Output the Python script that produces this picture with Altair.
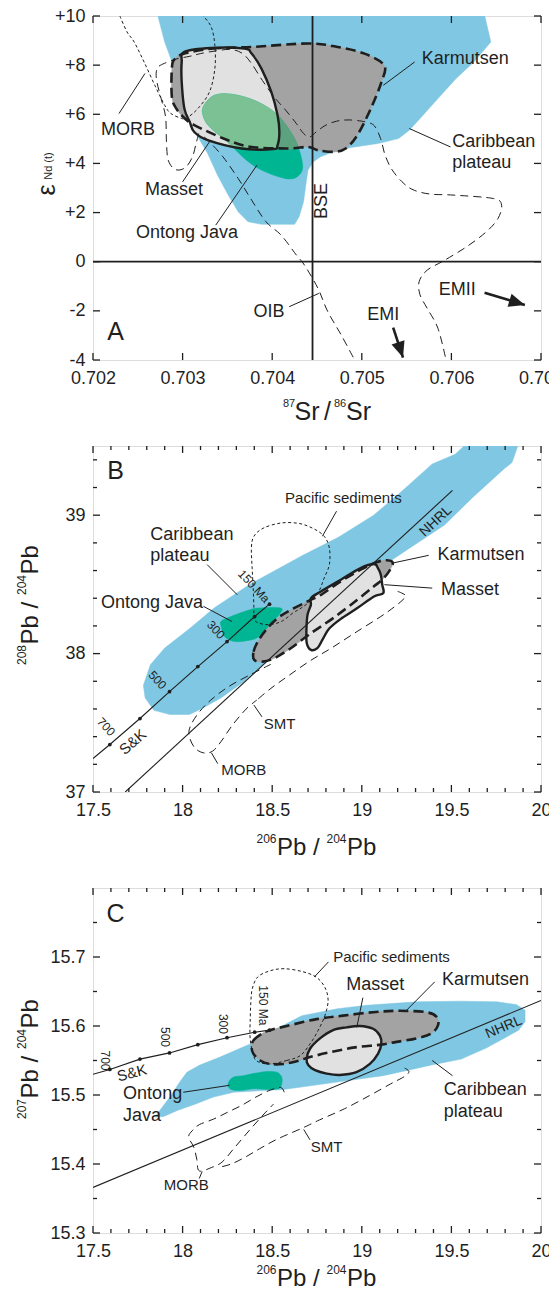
import math
import altair as alt
import pandas as pd

FONT = "Liberation Sans"
INK = "#1f1f1f"
BLUE = "#7fc7e2"
KGREY = "#a3a3a3"
MGREY = "#e1e1e1"
TEAL = "#00b592"
LGREEN = "#7cc194"
DGREEN = "#5ca27e"

# ------------------------------------------------------------------ panel A data (87Sr/86Sr vs eNd)
A_XDOM = [0.702, 0.707]
A_YDOM = [-4, 10]
A_XTICKS = [0.702, 0.703, 0.704, 0.705, 0.706, 0.707]
A_YTICKS = [-4, -2, 0, 2, 4, 6, 8, 10]
A_CARIBBEAN = [(0.70271, 10.2), (0.70636, 10.2), (0.70644, 8.94), (0.70625, 8.13), (0.70605, 7.45),
               (0.70585, 6.64), (0.70565, 5.83), (0.70553, 5.35), (0.70541, 5.01), (0.70518, 4.81),
               (0.70488, 4.65), (0.70466, 4.44), (0.70454, 4.27), (0.70446, 4.07), (0.70440, 3.73),
               (0.70438, 3.25), (0.70435, 2.44), (0.70430, 1.83), (0.70425, 1.52), (0.70388, 1.52),
               (0.70373, 1.63), (0.70362, 2.03), (0.70351, 2.71), (0.70339, 3.52), (0.70328, 4.40),
               (0.70316, 5.15), (0.70300, 6.50), (0.70287, 8.25), (0.70280, 8.94)]
A_KARMUTSEN = [(0.70302, 8.47), (0.70332, 8.67), (0.70377, 8.74), (0.70440, 8.88), (0.70473, 8.74),
               (0.70503, 8.47), (0.70525, 7.99), (0.70522, 7.32), (0.70510, 6.23), (0.70495, 5.15),
               (0.70482, 4.61), (0.70469, 4.47), (0.70451, 4.54), (0.70440, 4.67), (0.70417, 4.61),
               (0.70377, 4.67), (0.70350, 4.95), (0.70313, 5.56), (0.70302, 5.85), (0.70293, 6.23),
               (0.70288, 6.71), (0.70288, 7.86), (0.70291, 8.24)]
A_MASSET = [(0.70302, 8.54), (0.70332, 8.70), (0.70369, 8.67), (0.70377, 8.47), (0.70388, 7.86),
            (0.70399, 6.91), (0.70406, 5.96), (0.70408, 5.28), (0.70406, 4.74), (0.70401, 4.58),
            (0.70366, 4.61), (0.70328, 4.95), (0.70313, 5.28), (0.70308, 5.69), (0.70302, 6.23),
            (0.70299, 7.32), (0.70299, 8.13)]
A_ONTONG = [(0.70323, 6.30), (0.70336, 6.78), (0.70358, 6.80), (0.70384, 6.50), (0.70406, 5.96),
            (0.70425, 5.01), (0.70434, 3.93), (0.70428, 3.46), (0.70414, 3.39), (0.70388, 3.73),
            (0.70369, 4.20), (0.70350, 4.88), (0.70332, 5.42), (0.70324, 5.83)]
A_ONTONG_IN_MASSET = [(0.70323, 6.30), (0.70336, 6.78), (0.70358, 6.80), (0.70384, 6.50), (0.70406, 5.96),
                      (0.70408, 5.28), (0.70406, 4.74), (0.70401, 4.58), (0.70366, 4.61), (0.70356, 4.67),
                      (0.70350, 4.88), (0.70332, 5.42), (0.70324, 5.83)]
A_ONTONG_IN_KARMUTSEN = [(0.70406, 5.96), (0.70415, 5.58), (0.70425, 5.01), (0.70428, 4.63),
                         (0.70411, 4.59), (0.70406, 4.74), (0.70408, 5.28)]
A_MORB = [(0.70230, 10.0), (0.70238, 9.35), (0.70246, 8.94), (0.70257, 8.13), (0.70269, 7.18),
          (0.70280, 6.37), (0.70287, 6.03), (0.70299, 5.83), (0.70304, 5.83), (0.70317, 6.23),
          (0.70330, 6.91), (0.70336, 7.86), (0.70336, 8.81), (0.70332, 9.55), (0.70323, 10.0)]
A_OIB_1 = [(0.70318, 5.22), (0.70315, 4.81), (0.70311, 4.27), (0.70303, 3.83), (0.70292, 3.75),
           (0.70284, 4.13), (0.70282, 4.88), (0.70281, 5.89), (0.70276, 6.64), (0.70271, 7.38),
           (0.70271, 7.79), (0.70275, 7.99), (0.70292, 8.24), (0.70308, 8.36), (0.70320, 8.47),
           (0.70337, 8.58), (0.70354, 8.64), (0.70367, 8.47), (0.70377, 8.06), (0.70389, 7.38),
           (0.70402, 6.71), (0.70415, 6.17), (0.70427, 5.62), (0.70435, 5.22), (0.70442, 5.08),
           (0.70450, 5.31), (0.70460, 5.56), (0.70472, 5.72), (0.70486, 5.77), (0.70504, 5.69),
           (0.70514, 5.53), (0.70521, 5.01), (0.70526, 4.34), (0.70534, 3.73), (0.70547, 3.18),
           (0.70559, 2.90), (0.70577, 2.75), (0.70603, 2.71), (0.70647, 2.57), (0.70656, 2.30),
           (0.70652, 1.76), (0.70639, 1.22), (0.70617, 0.61), (0.70591, 0.03), (0.70573, -0.34),
           (0.70564, -0.81), (0.70565, -1.35), (0.70573, -1.90), (0.70585, -2.71), (0.70594, -4.0)]
A_OIB_2 = [(0.70324, 5.08), (0.70330, 4.88), (0.70345, 4.27), (0.70362, 3.39), (0.70377, 2.51),
           (0.70393, 1.63), (0.70410, 1.08), (0.70427, 0.27), (0.70436, -0.14), (0.70451, -1.08),
           (0.70462, -2.03), (0.70477, -2.98), (0.70492, -4.0)]
A_BSE = [0.70445]
A_ZERO = [0.0]
A_LABELS = [("Karmutsen", 0.70567, 8.27, 18), ("MORB", 0.70209, 5.35, 18), ("Masset", 0.70258, 2.91, 18),
            ("Ontong Java", 0.70248, 1.15, 18), ("Caribbean", 0.70601, 4.88, 18),
            ("plateau", 0.70601, 4.00, 18), ("OIB", 0.70379, -2.03, 18), ("EMI", 0.70506, -2.17, 18),
            ("EMII", 0.70586, -1.15, 18), ("A", 0.70216, -2.85, 25)]
A_ROTATED = [("BSE", 0.70456, 2.47, 270, 18)]
A_LEADERS = [(0.70559, 8.13, 0.70524, 7.18), (0.70229, 6.03, 0.70258, 7.66), (0.70300, 3.25, 0.70330, 4.88),
             (0.70337, 1.49, 0.70383, 3.93), (0.70599, 4.67, 0.70553, 5.42), (0.70419, -1.83, 0.70452, -1.29)]
A_ARROWS = [(0.70535, -2.68, 0.70546, -3.90), (0.70637, -1.26, 0.70682, -1.76)]

# ------------------------------------------------------------------ panel B data (206Pb/204Pb vs 208Pb/204Pb)
B_XDOM = [17.5, 20.0]
B_YDOM = [37.0, 39.5]
PB_XMAJOR = [17.5, 18.0, 18.5, 19.0, 19.5, 20.0]
PB_XMINOR = [17.6, 17.7, 17.8, 17.9, 18.1, 18.2, 18.3, 18.4, 18.6, 18.7, 18.8, 18.9,
             19.1, 19.2, 19.3, 19.4, 19.6, 19.7, 19.8, 19.9]
B_YMAJOR = [37.0, 38.0, 39.0]
B_YMINOR = [37.2, 37.4, 37.6, 37.8, 38.2, 38.4, 38.6, 38.8, 39.2, 39.4]
B_CARIBBEAN = [(17.781, 37.77), (17.791, 37.68), (17.840, 37.59), (17.929, 37.56), (18.038, 37.56),
               (18.103, 37.60), (18.214, 37.68), (18.345, 37.80), (18.447, 37.92), (18.572, 38.04),
               (18.770, 38.23), (18.968, 38.47), (19.126, 38.64), (19.264, 38.76), (19.462, 38.93),
               (19.620, 39.13), (19.798, 39.34), (19.838, 39.38), (19.887, 39.56), (19.620, 39.56),
               (19.521, 39.44), (19.393, 39.37), (19.264, 39.22), (19.185, 39.13), (19.066, 39.00),
               (18.869, 38.84), (18.671, 38.71), (18.572, 38.64), (18.374, 38.50), (18.176, 38.33),
               (18.038, 38.18), (17.900, 38.04), (17.820, 37.92)]
B_KARMUTSEN = [(18.400, 37.954), (18.396, 38.014), (18.420, 38.087), (18.465, 38.171), (18.530, 38.256),
               (18.604, 38.316), (18.697, 38.377), (18.772, 38.425), (18.883, 38.522), (18.993, 38.606),
               (19.086, 38.662), (19.142, 38.674), (19.173, 38.655), (19.152, 38.594), (19.114, 38.534),
               (19.068, 38.486), (18.975, 38.389), (18.845, 38.261), (18.716, 38.147), (18.604, 38.039),
               (18.511, 37.966), (18.447, 37.942)]
B_MASSET = [(18.716, 38.401), (18.772, 38.449), (18.883, 38.534), (18.993, 38.618), (19.068, 38.647),
            (19.090, 38.618), (19.106, 38.570), (19.114, 38.498), (19.120, 38.437), (19.068, 38.413),
            (18.975, 38.329), (18.883, 38.251), (18.817, 38.179), (18.780, 38.099), (18.752, 38.039),
            (18.716, 38.027), (18.693, 38.075), (18.691, 38.171), (18.697, 38.280), (18.716, 38.353)]
B_ONTONG = [(18.214, 38.232), (18.269, 38.268), (18.345, 38.304), (18.420, 38.329), (18.548, 38.329),
            (18.538, 38.280), (18.503, 38.232), (18.465, 38.171), (18.428, 38.123), (18.382, 38.099),
            (18.289, 38.087), (18.234, 38.123), (18.218, 38.184)]
B_PACIFIC = [(18.661, 38.329), (18.614, 38.292), (18.558, 38.237), (18.503, 38.213), (18.447, 38.213),
             (18.400, 38.244), (18.398, 38.329), (18.394, 38.473), (18.388, 38.618), (18.384, 38.763),
             (18.398, 38.848), (18.453, 38.908), (18.552, 38.944), (18.651, 38.940), (18.730, 38.903),
             (18.790, 38.848), (18.819, 38.763), (18.819, 38.643), (18.790, 38.546), (18.760, 38.449),
             (18.710, 38.377)]
B_MORB = [(18.493, 37.923), (18.374, 37.845), (18.256, 37.761), (18.157, 37.664), (18.087, 37.568),
          (18.042, 37.471), (18.038, 37.399), (18.068, 37.319), (18.117, 37.283), (18.167, 37.295),
          (18.216, 37.367), (18.275, 37.478), (18.354, 37.599), (18.414, 37.664)]
B_SMT = [(19.200, 38.450), (19.245, 38.420), (19.230, 38.390), (19.185, 38.341), (19.106, 38.268),
         (18.968, 38.155), (18.829, 38.039), (18.710, 37.947), (18.592, 37.841), (18.493, 37.749),
         (18.414, 37.664)]
B_NHRL = [(17.68, 37.0), (19.506, 39.179)]
SK_X = [17.5, 17.594, 17.762, 17.927, 18.085, 18.248, 18.402, 18.485]
B_SK_Y = [37.242, 37.343, 37.531, 37.725, 37.906, 38.087, 38.268, 38.357]
B_LABELS = [("Pacific sediments", 18.572, 39.126, 15), ("Caribbean", 17.820, 38.86, 18),
            ("plateau", 17.820, 38.708, 18), ("Ontong Java", 17.544, 38.365, 18),
            ("Karmutsen", 19.422, 38.715, 18), ("Masset", 19.442, 38.461, 18),
            ("SMT", 18.453, 37.488, 15), ("MORB", 18.216, 37.157, 15), ("B", 17.579, 39.32, 25)]
B_ROTATED = [("NHRL", 19.413, 38.957, 317, 14), ("S&K", 17.722, 37.362, 319, 15),
             ("700", 17.573, 37.471, 47, 12), ("500", 17.860, 37.809, 47, 12),
             ("300", 18.186, 38.171, 47, 12), ("150 Ma", 18.398, 38.486, 47, 12)]
B_LEADERS = [(18.780, 38.848, 18.859, 39.029), (18.137, 38.643, 18.305, 38.425),
             (18.117, 38.341, 18.275, 38.232), (19.373, 38.710, 19.175, 38.655),
             (19.393, 38.473, 19.126, 38.498), (18.443, 37.543, 18.398, 37.628),
             (18.196, 37.205, 18.161, 37.283)]

# ------------------------------------------------------------------ panel C data (206Pb/204Pb vs 207Pb/204Pb)
C_XDOM = [17.5, 20.0]
C_YDOM = [15.3, 15.8]
C_YMAJOR = [15.3, 15.4, 15.5, 15.6, 15.7]
C_YMINOR = [15.35, 15.45, 15.55, 15.65, 15.75]
C_CARIBBEAN = [(17.846, 15.468), (17.885, 15.482), (17.935, 15.499), (17.984, 15.519), (18.024, 15.533),
               (18.093, 15.543), (18.209, 15.555), (18.377, 15.574), (18.488, 15.591), (18.666, 15.615),
               (18.864, 15.625), (19.026, 15.630), (19.304, 15.635), (19.555, 15.636), (19.753, 15.635),
               (19.862, 15.631), (19.911, 15.623), (19.911, 15.606), (19.875, 15.594), (19.792, 15.582),
               (19.694, 15.568), (19.555, 15.552), (19.397, 15.544), (19.259, 15.536), (19.119, 15.528),
               (18.842, 15.518), (18.563, 15.508), (18.285, 15.504), (18.172, 15.497), (18.073, 15.487),
               (17.974, 15.478), (17.895, 15.469)]
C_KARMUTSEN = [(18.385, 15.569), (18.395, 15.579), (18.443, 15.589), (18.488, 15.594), (18.581, 15.600),
               (18.747, 15.610), (18.895, 15.615), (19.063, 15.620), (19.211, 15.622), (19.360, 15.620),
               (19.419, 15.613), (19.425, 15.601), (19.387, 15.589), (19.304, 15.582), (19.194, 15.577),
               (19.109, 15.573), (18.962, 15.569), (18.824, 15.562), (18.711, 15.555), (18.636, 15.549),
               (18.563, 15.545), (18.488, 15.545), (18.433, 15.550), (18.395, 15.560)]
C_MASSET = [(18.692, 15.552), (18.711, 15.567), (18.767, 15.582), (18.840, 15.594), (18.915, 15.598),
            (18.988, 15.600), (19.063, 15.596), (19.101, 15.586), (19.109, 15.574), (19.091, 15.560),
            (19.045, 15.545), (18.970, 15.533), (18.877, 15.529), (18.804, 15.531), (18.739, 15.536),
            (18.702, 15.543)]
C_ONTONG = [(18.257, 15.519), (18.285, 15.526), (18.340, 15.528), (18.415, 15.532), (18.470, 15.534),
            (18.526, 15.533), (18.553, 15.526), (18.553, 15.516), (18.536, 15.509), (18.470, 15.508),
            (18.395, 15.509), (18.340, 15.507), (18.285, 15.507), (18.257, 15.511)]
C_PACIFIC = [(18.656, 15.557), (18.581, 15.550), (18.488, 15.545), (18.423, 15.548), (18.395, 15.557),
             (18.377, 15.582), (18.377, 15.606), (18.381, 15.635), (18.389, 15.654), (18.419, 15.671),
             (18.488, 15.680), (18.567, 15.683), (18.666, 15.679), (18.745, 15.671), (18.794, 15.656),
             (18.812, 15.637), (18.794, 15.615), (18.757, 15.594), (18.711, 15.574)]
C_MORB = [(18.567, 15.504), (18.547, 15.511), (18.488, 15.507), (18.409, 15.497), (18.330, 15.485),
          (18.251, 15.475), (18.172, 15.465), (18.093, 15.457), (18.053, 15.448), (18.034, 15.439),
          (18.063, 15.424), (18.079, 15.407), (18.093, 15.390), (18.162, 15.395), (18.221, 15.403),
          (18.291, 15.424), (18.370, 15.448), (18.449, 15.471), (18.508, 15.487)]
C_SMT = [(19.239, 15.539), (19.263, 15.534), (19.239, 15.527), (19.160, 15.516), (19.042, 15.499),
         (18.903, 15.480), (18.765, 15.464), (18.676, 15.453), (18.528, 15.436), (18.429, 15.422),
         (18.350, 15.410), (18.271, 15.400), (18.202, 15.395)]
C_NHRL = [(17.5, 15.366), (20.0, 15.637)]
C_SK_Y = [15.530, 15.537, 15.552, 15.561, 15.573, 15.583, 15.591, 15.594]
C_LABELS = [("Pacific sediments", 18.840, 15.700, 15), ("Masset", 18.913, 15.660, 18),
            ("Karmutsen", 19.447, 15.667, 18), ("Caribbean", 19.457, 15.507, 18),
            ("plateau", 19.457, 15.476, 18), ("Ontong", 17.668, 15.501, 18), ("Java", 17.668, 15.470, 18),
            ("SMT", 18.715, 15.425, 15), ("MORB", 17.895, 15.369, 15), ("C", 17.575, 15.763, 25)]
C_ROTATED = [("NHRL", 19.792, 15.598, 337, 14), ("S&K", 17.717, 15.532, 346, 15),
             ("700", 17.569, 15.550, 90, 12), ("500", 17.901, 15.584, 90, 12),
             ("300", 18.225, 15.603, 90, 12), ("150 Ma", 18.449, 15.630, 90, 12)]
C_LEADERS = [(18.814, 15.693, 18.735, 15.671), (19.006, 15.641, 18.972, 15.598),
             (19.407, 15.664, 19.239, 15.620), (19.506, 15.528, 19.393, 15.550),
             (18.004, 15.504, 18.261, 15.514), (18.711, 15.435, 18.676, 15.450),
             (18.093, 15.379, 18.109, 15.389)]

# axis titles: (text, px, py, font size, angle) relative to each plot area
A_TITLE_PIECES = [("87", 190, 391, 11, 0), ("Sr", 201.5, 404, 25, 0), ("/", 231, 404, 25, 0),
                  ("86", 241, 391, 11, 0), ("Sr", 253, 404, 25, 0)]
B_TITLE_PIECES = [("206", 163.5, 397, 12, 0), ("Pb", 184, 409, 24, 0), ("/", 220, 409, 24, 0),
                  ("204", 233.5, 397, 12, 0), ("Pb", 254, 409, 24, 0),
                  ("208", -67, 219, 12, 270), ("Pb", -55, 198.5, 24, 270), ("/", -55, 162.4, 24, 270),
                  ("204", -67, 149, 12, 270), ("Pb", -55, 128.5, 24, 270)]
C_TITLE_PIECES = [("206", 163.5, 386, 12, 0), ("Pb", 184, 398, 24, 0), ("/", 220, 398, 24, 0),
                  ("204", 233.5, 386, 12, 0), ("Pb", 254, 398, 24, 0),
                  ("207", -67, 231, 12, 270), ("Pb", -55, 210.5, 24, 270), ("/", -55, 174.4, 24, 270),
                  ("204", -67, 161, 12, 270), ("Pb", -55, 140.5, 24, 270)]

W = 448
HA, HB, HC = 344, 346, 345
ARROW_SHAPE = "M0,0 L-2,-0.85 L-2,0.85 Z"


def pts_df(pts):
    return pd.DataFrame({"x": [p[0] for p in pts], "y": [p[1] for p in pts], "i": list(range(len(pts)))})


class Panel:
    def __init__(self, xdom, ydom, w, h, xaxis, yaxis):
        self.w, self.h = w, h
        self.xdom, self.ydom = xdom, ydom
        self.X = alt.X("x:Q", scale=alt.Scale(domain=xdom, nice=False, zero=False), axis=xaxis)
        self.Y = alt.Y("y:Q", scale=alt.Scale(domain=ydom, nice=False, zero=False), axis=yaxis)
        self.layers = []

    def poly(self, pts, fill, interp="cardinal-closed"):
        self.layers.append(alt.Chart(pts_df(pts)).mark_line(
            clip=True, fill=fill, stroke=fill, strokeWidth=0.5, interpolate=interp
        ).encode(x=self.X, y=self.Y, order=alt.Order("i:Q")))

    def path(self, pts, width=1.0, dash=None, interp="cardinal"):
        mk = dict(clip=True, color=INK, strokeWidth=width, interpolate=interp)
        if dash:
            mk["strokeDash"] = dash
        self.layers.append(alt.Chart(pts_df(pts)).mark_line(**mk).encode(
            x=self.X, y=self.Y, order=alt.Order("i:Q")))

    def dots(self, xs, ys):
        df = pd.DataFrame({"x": xs, "y": ys})
        self.layers.append(alt.Chart(df).mark_point(filled=True, size=14, color=INK, opacity=1).encode(
            x=self.X, y=self.Y))

    def vrule(self, xs, width=1.8):
        self.layers.append(alt.Chart(pd.DataFrame({"x": xs})).mark_rule(color=INK, strokeWidth=width).encode(x=self.X))

    def hrule(self, ys, width=1.8):
        self.layers.append(alt.Chart(pd.DataFrame({"y": ys})).mark_rule(color=INK, strokeWidth=width).encode(y=self.Y))

    def leaders(self, rows):
        df = pd.DataFrame(rows, columns=["x", "y", "x2", "y2"])
        self.layers.append(alt.Chart(df).mark_rule(color=INK, strokeWidth=1).encode(
            x=self.X, y=self.Y, x2="x2:Q", y2="y2:Q"))

    def labels(self, rows):
        df = pd.DataFrame(rows, columns=["t", "x", "y", "s"])
        self.layers.append(alt.Chart(df).mark_text(align="left", baseline="middle", font=FONT, color=INK).encode(
            x=self.X, y=self.Y, text="t:N", size=alt.Size("s:Q", scale=None)))

    def rotated(self, rows):
        df = pd.DataFrame(rows, columns=["t", "x", "y", "a", "s"])
        self.layers.append(alt.Chart(df).mark_text(align="center", baseline="middle", font=FONT, color=INK).encode(
            x=self.X, y=self.Y, text="t:N", size=alt.Size("s:Q", scale=None), angle=alt.Angle("a:Q", scale=None)))

    def arrows(self, rows):
        ppx = self.w / (self.xdom[1] - self.xdom[0])
        ppy = self.h / (self.ydom[1] - self.ydom[0])
        for (x1, y1, x2, y2) in rows:
            df = pd.DataFrame({"x": [x1], "y": [y1], "x2": [x2], "y2": [y2]})
            self.layers.append(alt.Chart(df).mark_rule(color=INK, strokeWidth=2.6).encode(
                x=self.X, y=self.Y, x2="x2:Q", y2="y2:Q"))
            ang = math.degrees(math.atan2(-(y2 - y1) * ppy, (x2 - x1) * ppx)) % 360
            head = pd.DataFrame({"x": [x2], "y": [y2]})
            self.layers.append(alt.Chart(head).mark_point(
                shape=ARROW_SHAPE, filled=True, size=256, color=INK, opacity=1, angle=ang, strokeWidth=0
            ).encode(x=self.X, y=self.Y))

    def ticks(self, xmaj, xmin, ymaj, ymin):
        for vals, L in ((xmaj, 7), (xmin, 4)):
            if vals:
                df = pd.DataFrame({"x": vals})
                self.layers.append(alt.Chart(df).mark_rule(color=INK, strokeWidth=1.3).encode(
                    x=self.X, y=alt.value(self.h), y2=alt.value(self.h - L)))
                self.layers.append(alt.Chart(df).mark_rule(color=INK, strokeWidth=1.3).encode(
                    x=self.X, y=alt.value(0), y2=alt.value(L)))
        for vals, L in ((ymaj, 7), (ymin, 4)):
            if vals:
                df = pd.DataFrame({"y": vals})
                self.layers.append(alt.Chart(df).mark_rule(color=INK, strokeWidth=1.3).encode(
                    y=self.Y, x=alt.value(0), x2=alt.value(L)))
                self.layers.append(alt.Chart(df).mark_rule(color=INK, strokeWidth=1.3).encode(
                    y=self.Y, x=alt.value(self.w), x2=alt.value(self.w - L)))

    def pixel_text(self, text, px, py, size, angle=0, align="center", baseline="middle"):
        self.layers.append(alt.Chart(pd.DataFrame({"t": [text]})).mark_text(
            font=FONT, fontSize=size, color=INK, angle=angle, align=align, baseline=baseline
        ).encode(x=alt.value(px), y=alt.value(py), text="t:N"))

    def title_pieces(self, pieces):
        for (t, px, py, s, a) in pieces:
            self.pixel_text(t, px, py, s, a, align="left", baseline="alphabetic")

    def chart(self):
        return alt.layer(*self.layers).properties(width=self.w, height=self.h)


def x_axis(values):
    return alt.Axis(values=values, labelExpr="'' + datum.value", title=None, labelFont=FONT,
                    labelFontSize=18, labelColor=INK, labelPadding=9, labelFlush=False, labelOverlap=False,
                    ticks=False, tickSize=0, domain=False, grid=False)


def y_axis(values, expr="'' + datum.value"):
    return alt.Axis(values=values, labelExpr=expr, title=None, labelFont=FONT, labelFontSize=18,
                    labelColor=INK, labelPadding=8, labelFlush=False, labelOverlap=False, ticks=False,
                    tickSize=0, domain=False, grid=False)


# ------------------------------------------------------------------ panel A
pa = Panel(A_XDOM, A_YDOM, W, HA, x_axis(A_XTICKS),
           y_axis(A_YTICKS, "datum.value > 0 ? '+' + datum.value : '' + datum.value"))
pa.poly(A_CARIBBEAN, BLUE, "linear-closed")
pa.poly(A_KARMUTSEN, KGREY)
pa.poly(A_MASSET, MGREY)
pa.poly(A_ONTONG, TEAL)
pa.poly(A_ONTONG_IN_MASSET, LGREEN)
pa.poly(A_ONTONG_IN_KARMUTSEN, DGREEN)
pa.path(A_MORB, 1.0, [3, 2.5])
pa.path(A_OIB_1, 1.0, [8, 5])
pa.path(A_OIB_2, 1.0, [8, 5])
pa.path(A_KARMUTSEN, 2.6, [10, 5], "cardinal-closed")
pa.path(A_MASSET, 2.4, None, "cardinal-closed")
pa.vrule(A_BSE)
pa.hrule(A_ZERO)
pa.leaders(A_LEADERS)
pa.arrows(A_ARROWS)
pa.labels(A_LABELS)
pa.rotated(A_ROTATED)
pa.ticks(A_XTICKS, [], A_YTICKS, [])
pa.pixel_text("\u03b5", -46, 174, 25, 270)
pa.pixel_text("Nd (t)", -44, 150, 11, 270)
pa.title_pieces(A_TITLE_PIECES)

# ------------------------------------------------------------------ panel B
pb = Panel(B_XDOM, B_YDOM, W, HB, x_axis(PB_XMAJOR), y_axis(B_YMAJOR))
pb.poly(B_CARIBBEAN, BLUE, "linear-closed")
pb.poly(B_ONTONG, TEAL)
pb.poly(B_KARMUTSEN, KGREY)
pb.poly(B_MASSET, MGREY)
pb.path(B_PACIFIC, 1.0, [3, 2.5], "cardinal-closed")
pb.path(B_MORB, 1.0, [8, 5])
pb.path(B_SMT, 1.0, [8, 5])
pb.path(B_KARMUTSEN, 2.6, [10, 5], "cardinal-closed")
pb.path(B_MASSET, 2.4, None, "cardinal-closed")
pb.path(B_NHRL, 1.1, None, "linear")
pb.path(list(zip(SK_X, B_SK_Y)), 1.1, None, "linear")
pb.dots(SK_X[1:], B_SK_Y[1:])
pb.leaders(B_LEADERS)
pb.labels(B_LABELS)
pb.rotated(B_ROTATED)
pb.ticks(PB_XMAJOR, PB_XMINOR, B_YMAJOR, B_YMINOR)
pb.title_pieces(B_TITLE_PIECES)

# ------------------------------------------------------------------ panel C
pc = Panel(C_XDOM, C_YDOM, W, HC, x_axis(PB_XMAJOR), y_axis(C_YMAJOR))
pc.poly(C_CARIBBEAN, BLUE, "linear-closed")
pc.poly(C_ONTONG, TEAL)
pc.poly(C_KARMUTSEN, KGREY)
pc.poly(C_MASSET, MGREY)
pc.path(C_PACIFIC, 1.0, [3, 2.5], "cardinal-closed")
pc.path(C_MORB, 1.0, [8, 5])
pc.path(C_SMT, 1.0, [8, 5])
pc.path(C_KARMUTSEN, 2.6, [10, 5], "cardinal-closed")
pc.path(C_MASSET, 2.4, None, "cardinal-closed")
pc.path(C_NHRL, 1.1, None, "linear")
pc.path(list(zip(SK_X, C_SK_Y)), 1.1, None, "linear")
pc.dots(SK_X[1:], C_SK_Y[1:])
pc.leaders(C_LEADERS)
pc.labels(C_LABELS)
pc.rotated(C_ROTATED)
pc.ticks(PB_XMAJOR, PB_XMINOR, C_YMAJOR, C_YMINOR)
pc.title_pieces(C_TITLE_PIECES)

inner = alt.vconcat(pb.chart(), pc.chart(), spacing=96, bounds="flush")
chart = alt.vconcat(pa.chart(), inner, spacing=86, bounds="flush").properties(
    padding={"left": 7, "top": -2, "right": -16, "bottom": -4}
).configure_view(stroke=INK, strokeWidth=1.6).configure(font=FONT, background="white")

chart.save("out.html", embed_options={"renderer": "svg", "actions": False})
